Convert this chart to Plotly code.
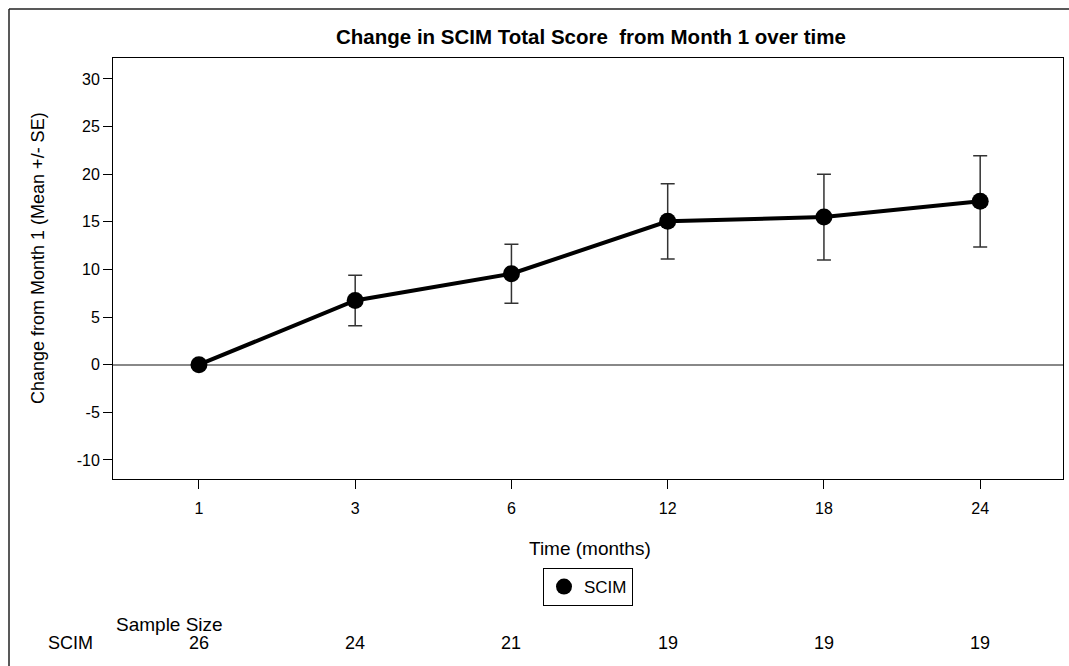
import plotly.graph_objects as go

months = ["1", "3", "6", "12", "18", "24"]
mean_change = [0.0, 6.75, 9.55, 15.05, 15.5, 17.15]
se_change = [0.0, 2.65, 3.1, 3.95, 4.5, 4.8]
sample_size = [26, 24, 21, 19, 19, 19]
series_name = "SCIM"
y_ticks = [-10, -5, 0, 5, 10, 15, 20, 25, 30]
y_ticktext = [str(v) for v in y_ticks]

W, H = 1069, 666
L, R, T, B = 113, 1063, 58, 479  # plot frame in pixels
pw, ph = R - L, B - T

def px(x):
    return (x - L) / pw

def py(y):
    return (B - y) / ph

FONT = "Liberation Sans, Arial, sans-serif"

fig = go.Figure()
fig.add_trace(go.Scatter(
    x=months, y=mean_change,
    mode="lines+markers",
    line=dict(color="black", width=4),
    marker=dict(color="black", size=17),
    error_y=dict(type="data", array=se_change, visible=True,
                 color="#333333", thickness=1.5, width=7),
    showlegend=False,
))
fig.add_trace(go.Scatter(
    x=[None], y=[None], mode="markers", name=series_name,
    marker=dict(color="black", size=16),
))

annotations = [
    dict(text="Change from Month 1 (Mean +/- SE)", x=px(38), y=py(258),
         xref="paper", yref="paper", textangle=-90, showarrow=False,
         font=dict(size=18, color="black", family=FONT),
         xanchor="center", yanchor="middle"),
    dict(text="Time (months)", x=px(590), y=py(548),
         xref="paper", yref="paper", showarrow=False,
         font=dict(size=19, color="black", family=FONT),
         xanchor="center", yanchor="middle"),
    dict(text="Sample Size", x=px(114), y=py(624), xref="paper", yref="paper",
         showarrow=False, xanchor="left", yanchor="middle",
         font=dict(size=19, color="black", family=FONT)),
    dict(text=series_name, x=px(70), y=py(643), xref="paper", yref="paper",
         showarrow=False, xanchor="center", yanchor="middle",
         font=dict(size=18, color="black", family=FONT)),
]
for i, n in enumerate(sample_size):
    annotations.append(dict(text=str(n), x=i, y=py(643), xref="x", yref="paper",
                            showarrow=False, xanchor="center", yanchor="middle",
                            font=dict(size=18, color="black", family=FONT)))

shapes = [
    dict(type="line", xref="paper", yref="paper", x0=px(9), x1=px(9),
         y0=py(9), y1=py(700), line=dict(color="#222222", width=1.5)),
    dict(type="line", xref="paper", yref="paper", x0=px(9), x1=px(1100),
         y0=py(9), y1=py(9), line=dict(color="#222222", width=1.5)),
]

fig.update_layout(
    width=W, height=H,
    margin=dict(l=L, r=W - R, t=T, b=H - B),
    paper_bgcolor="white", plot_bgcolor="white",
    hovermode=False,
    font=dict(family=FONT, color="black", size=16),
    title=dict(text="<b>Change in SCIM Total Score  from Month 1 over time</b>",
               x=px(591), xanchor="center", xref="paper",
               y=1 - 37 / H, yanchor="middle",
               font=dict(size=20.5, color="black", family=FONT)),
    xaxis=dict(
        type="category", range=[-0.55, 5.53],
        showline=True, linecolor="black", linewidth=1, mirror=True,
        ticks="outside", ticklen=9, tickcolor="black",
        ticklabelstandoff=6,
        showgrid=False, zeroline=False,
        tickfont=dict(size=16),
    ),
    yaxis=dict(
        range=[-12.0, 32.2],
        tickvals=y_ticks, ticktext=y_ticktext,
        showline=True, linecolor="black", linewidth=1, mirror=True,
        ticks="outside", ticklen=9, tickcolor="black",
        showgrid=False,
        zeroline=True, zerolinecolor="#888888", zerolinewidth=1.5,
        tickfont=dict(size=16),
    ),
    legend=dict(orientation="h", x=px(588), xanchor="center",
                y=py(568), yanchor="top",
                bordercolor="black", borderwidth=1,
                font=dict(size=17), itemsizing="trace"),
    annotations=annotations,
    shapes=shapes,
)

fig.write_html("out.html", config={"displayModeBar": False},
               post_script="document.body.style.margin='0';")
